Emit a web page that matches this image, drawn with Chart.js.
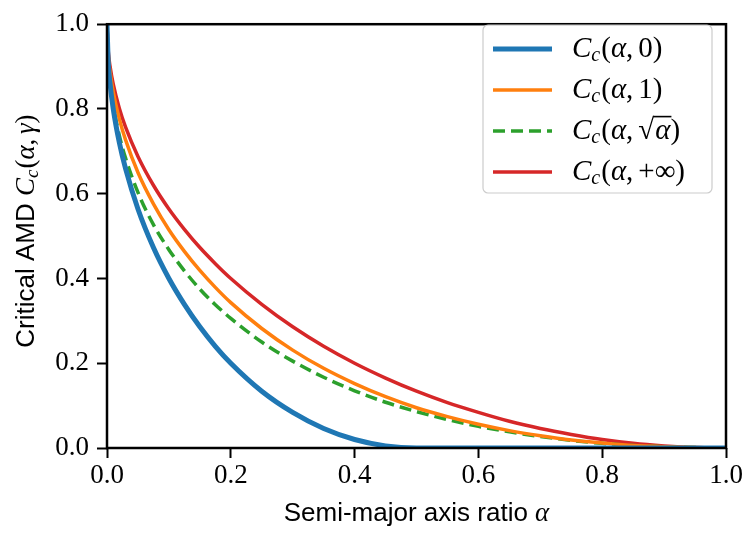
<!DOCTYPE html>
<html>
<head>
<meta charset="utf-8">
<script src="https://cdn.jsdelivr.net/npm/chart.js@4/dist/chart.umd.min.js"></script>
<style>
html, body { margin: 0; padding: 0; background: #fff; }
</style>
</head>
<body>
<canvas id="amdCanvas" width="745" height="534"></canvas>
<script>
// semi-major axis ratio alpha, and the four curves
var alphaValues = [0, 0.002, 0.005, 0.01, 0.02, 0.03, 0.05, 0.075, 0.1, 0.125, 0.15, 0.175, 0.2, 0.25, 0.3,
  0.35, 0.4, 0.45, 0.5, 0.55, 0.6, 0.65, 0.7, 0.75, 0.8, 0.85, 0.9, 0.95, 1.0];
var ccGamma0 = [1.0, 0.911, 0.859, 0.801, 0.72, 0.659, 0.564, 0.473, 0.4, 0.339, 0.286, 0.24, 0.2, 0.134, 0.084,
  0.046, 0.02, 0.005, 0, 0, 0, 0, 0, 0, 0, 0, 0, 0, 0];
var ccGamma1 = [1.0, 0.929, 0.887, 0.841, 0.776, 0.727, 0.65, 0.576, 0.515, 0.464, 0.419, 0.379, 0.343, 0.282, 0.231,
  0.188, 0.152, 0.121, 0.095, 0.074, 0.056, 0.041, 0.029, 0.019, 0.012, 0.006, 0.003, 0.001, 0];
var ccGammaSqrt = [1.0, 0.913, 0.864, 0.81, 0.737, 0.684, 0.603, 0.527, 0.468, 0.418, 0.375, 0.338, 0.306, 0.25, 0.205,
  0.167, 0.135, 0.108, 0.086, 0.067, 0.051, 0.038, 0.027, 0.018, 0.011, 0.006, 0.003, 0.001, 0];
var ccGammaInf = [1.0, 0.937, 0.9, 0.859, 0.801, 0.757, 0.688, 0.62, 0.564, 0.516, 0.473, 0.435, 0.4, 0.339, 0.286,
  0.24, 0.2, 0.165, 0.134, 0.107, 0.084, 0.063, 0.046, 0.032, 0.02, 0.011, 0.005, 0.001, 0];
var gammaArgs = ["0", "1", "sqrt", "+\u221e"];
var lineColors = ["#1f77b4", "#ff7f0e", "#2ca02c", "#d62728"];
var lineWidths = [5, 3.5, 3.5, 3.5];
var tickValues = [0, 0.2, 0.4, 0.6, 0.8, 1.0];

var SERIF = '"Liberation Serif", "DejaVu Serif", serif';
var SANS = '"Liberation Sans", Arial, sans-serif';

function toPoints(ys) {
  return ys.map(function (y, i) { return {x: alphaValues[i], y: y}; });
}

function put(ctx, s, x, y, font) {
  ctx.font = font;
  ctx.fillText(s, x, y);
  return x + ctx.measureText(s).width;
}

// draws C_c(alpha, arg) starting at x on baseline y
function drawCc(ctx, x, y, size, arg) {
  var it = "italic " + size + "px " + SERIF;
  var rm = size + "px " + SERIF;
  var sub = "italic " + Math.round(size * 0.7) + "px " + SERIF;
  x = put(ctx, "C", x, y, it);
  x = put(ctx, "c", x, y + size * 0.15, sub);
  x = put(ctx, "(", x + 1, y, rm);
  x = put(ctx, "\u03b1", x, y, it);
  x = put(ctx, ",", x, y, rm);
  x += size * 0.17;
  if (arg === "sqrt") {
    var x0 = put(ctx, "\u221a", x, y, rm);
    var x1 = put(ctx, "\u03b1", x0 + 1, y, it);
    ctx.fillRect(x0 - 1, y - size * 0.8, x1 - x0 + 2, 1.6);
    x = x1;
  } else if (arg === "gamma") {
    x = put(ctx, "\u03b3", x, y, it);
  } else {
    x = put(ctx, arg, x, y, rm);
  }
  x = put(ctx, ")", x, y, rm);
  return x;
}

function ccWidth(ctx, size, arg) {
  ctx.save();
  ctx.globalAlpha = 0;
  var w = drawCc(ctx, 0, -1000, size, arg);
  ctx.restore();
  return w;
}

var decorPlugin = {
  id: "decor",
  afterDraw: function (chart) {
    var ctx = chart.ctx;
    var a = chart.chartArea;
    ctx.save();
    // box round the axes
    ctx.strokeStyle = "#000";
    ctx.lineWidth = 2.5;
    ctx.strokeRect(a.left, a.top, a.right - a.left, a.bottom - a.top);

    ctx.fillStyle = "#000";
    ctx.textBaseline = "alphabetic";
    ctx.textAlign = "left";

    // x title
    var xt = "Semi-major axis ratio ";
    ctx.font = "italic 27px " + SERIF;
    var wa = ctx.measureText("\u03b1").width;
    ctx.font = "26px " + SANS;
    var wx = ctx.measureText(xt).width + wa;
    var sx = (a.left + a.right) / 2 - wx / 2;
    sx = put(ctx, xt, sx, 521, "26px " + SANS);
    put(ctx, "\u03b1", sx, 521, "italic 27px " + SERIF);

    // y title, rotated, centred on the axes
    var yt = "Critical AMD ";
    ctx.font = "26px " + SANS;
    var wy = ctx.measureText(yt).width + ccWidth(ctx, 27, "gamma");
    ctx.translate(34, (a.top + a.bottom) / 2 - 5);
    ctx.rotate(-Math.PI / 2);
    var sy = -wy / 2;
    sy = put(ctx, yt, sy, 0, "26px " + SANS);
    drawCc(ctx, sy, 0, 27, "gamma");
    ctx.restore();

    // legend
    ctx.save();
    var lx = 483, ly = 25, lw = 229, lh = 168;
    ctx.beginPath();
    ctx.roundRect(lx, ly, lw, lh, 5);
    ctx.fillStyle = "rgba(255,255,255,0.8)";
    ctx.fill();
    ctx.strokeStyle = "#cccccc";
    ctx.lineWidth = 1.2;
    ctx.stroke();
    chart.data.datasets.forEach(function (ds, i) {
      var yy = 49 + i * 41;
      ctx.beginPath();
      ctx.strokeStyle = ds.borderColor;
      ctx.lineWidth = ds.borderWidth;
      ctx.setLineDash(ds.borderDash || []);
      ctx.moveTo(493, yy);
      ctx.lineTo(552, yy);
      ctx.stroke();
      ctx.setLineDash([]);
      ctx.fillStyle = "#000";
      drawCc(ctx, 572, yy + 8, 29, gammaArgs[i]);
    });
    ctx.restore();
  }
};

var seriesData = [ccGamma0, ccGamma1, ccGammaSqrt, ccGammaInf];

new Chart("amdCanvas", {
  type: "line",
  data: {
    datasets: seriesData.map(function (ys, i) {
      return {
        label: "C_c(\u03b1, " + gammaArgs[i] + ")",
        data: toPoints(ys),
        borderColor: lineColors[i],
        borderWidth: lineWidths[i],
        borderDash: i === 2 ? [12, 6] : [],
        pointRadius: 0,
        fill: false,
        cubicInterpolationMode: "monotone"
      };
    })
  },
  options: {
    responsive: false,
    animation: false,
    devicePixelRatio: 1,
    layout: {padding: {top: 12, right: 19, left: 0, bottom: 0}},
    plugins: {legend: {display: false}, tooltip: {enabled: false}},
    scales: {
      x: {
        type: "linear",
        min: 0,
        max: 1,
        afterBuildTicks: function (scale) { scale.ticks = tickValues.map(function (v) { return {value: v}; }); },
        afterFit: function (scale) { scale.height = 86; },
        ticks: {
          callback: function (v) { return v.toFixed(1); },
          color: "#000",
          font: {family: SERIF, size: 27},
          padding: 2,
          maxRotation: 0
        },
        grid: {drawOnChartArea: false, tickLength: 10, tickWidth: 2, tickColor: "#000"},
        border: {display: false}
      },
      y: {
        type: "linear",
        min: 0,
        max: 1,
        afterBuildTicks: function (scale) { scale.ticks = tickValues.map(function (v) { return {value: v}; }); },
        afterFit: function (scale) { scale.width = 107; },
        ticks: {
          callback: function (v) { return v.toFixed(1); },
          color: "#000",
          font: {family: SERIF, size: 27},
          padding: 8
        },
        grid: {drawOnChartArea: false, tickLength: 10, tickWidth: 2, tickColor: "#000"},
        border: {display: false}
      }
    }
  },
  plugins: [decorPlugin]
});
</script>
</body>
</html>
